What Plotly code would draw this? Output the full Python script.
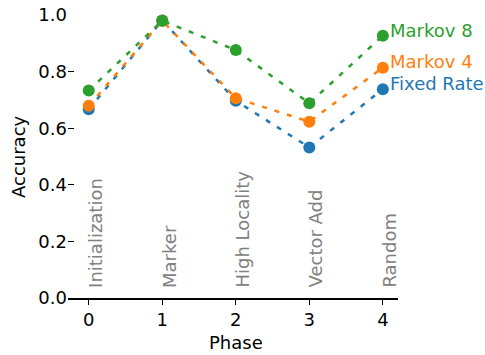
import plotly.graph_objects as go

phases = [0, 1, 2, 3, 4]
phase_names = ["Initialization", "Marker", "High Locality", "Vector Add", "Random"]
fixed_rate = [0.667, 0.981, 0.697, 0.532, 0.738]
markov4 = [0.679, 0.980, 0.706, 0.623, 0.814]
markov8 = [0.733, 0.980, 0.876, 0.688, 0.927]
y_ticks = [0.0, 0.2, 0.4, 0.6, 0.8, 1.0]

series = [("Fixed Rate", fixed_rate, "#1f77b4"),
          ("Markov 4", markov4, "#ff7f0e"),
          ("Markov 8", markov8, "#2ca02c")]

FONT = "DejaVu Sans"
FS = 18
fig = go.Figure()
for name, vals, col in series:
    fig.add_trace(go.Scatter(
        x=phases, y=vals, mode="lines+markers", name=name,
        line=dict(color=col, width=2.5, dash="5px,8px"),
        marker=dict(color=col, size=12),
        cliponaxis=False, showlegend=False))
    fig.add_annotation(x=phases[-1] + 0.1, y=vals[-1] + 0.02, text=name,
                       showarrow=False, xanchor="left", yanchor="middle",
                       xshift=-2,
                       font=dict(family=FONT, size=FS, color=col))

for p, lab in zip(phases, phase_names):
    fig.add_annotation(x=p, y=0.04, text=lab, textangle=-90, showarrow=False,
                       xanchor="left", yanchor="bottom", xshift=-6, yshift=-3,
                       font=dict(family=FONT, size=FS, color="#808080"))

fig.add_annotation(xref="paper", yref="paper", x=-0.15, y=0.5, text="Accuracy",
                   textangle=-90, showarrow=False, xanchor="center", yanchor="middle",
                   font=dict(family=FONT, size=FS, color="black"))
fig.add_annotation(x=2, xref="x", yref="paper", y=-0.159, text="Phase",
                   showarrow=False, xanchor="center", yanchor="middle",
                   font=dict(family=FONT, size=FS, color="black"))

fig.update_layout(
    width=485, height=355,
    margin=dict(l=68, r=87, t=15, b=57),
    plot_bgcolor="white", paper_bgcolor="white",
    font=dict(family=FONT, size=FS, color="black"),
    xaxis=dict(range=[-0.282, 4.206], tickvals=phases, ticks="outside",
               ticklen=5, tickwidth=1.2, tickcolor="black",
               showline=True, linecolor="black", linewidth=1.5,
               showgrid=False, zeroline=False, automargin=False),
    yaxis=dict(range=[0, 1.0], tickvals=y_ticks, tickformat=".1f",
               ticks="inside", ticklen=6, tickwidth=1.2, tickcolor="black",
               showline=False, showgrid=False, zeroline=False, automargin=False),
)
fig.write_html("out.html", config={"displayModeBar": False},
               post_script="document.body.style.margin='0';document.body.style.padding='0';")
